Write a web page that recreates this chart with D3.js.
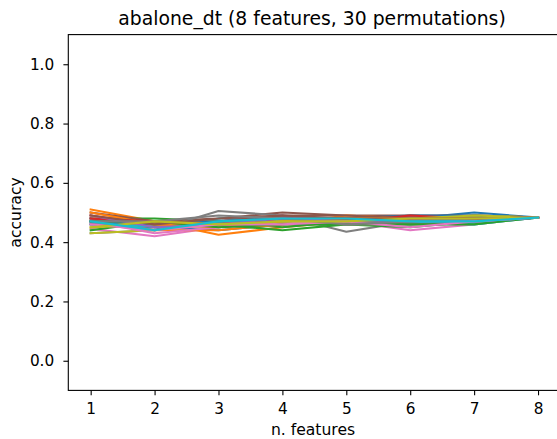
<!DOCTYPE html>
<html>
<head>
<meta charset="utf-8">
<script src="https://d3js.org/d3.v7.min.js"></script>
<title>abalone_dt</title>
<style>
body { margin: 0; background: #fff; }
svg { display: block; font-family: "DejaVu Sans", sans-serif; }
</style>
</head>
<body>
<svg id="svg" width="557" height="439"></svg>
<script>

// number of features on the x axis
const nFeatures = [1, 2, 3, 4, 5, 6, 7, 8];

// accuracy per permutation (30 runs)
const run01 = [0.470, 0.460, 0.450, 0.470, 0.480, 0.480, 0.500, 0.483];
const run02 = [0.510, 0.470, 0.425, 0.450, 0.470, 0.490, 0.480, 0.483];
const run03 = [0.480, 0.480, 0.470, 0.450, 0.470, 0.460, 0.470, 0.483];
const run04 = [0.490, 0.460, 0.470, 0.480, 0.480, 0.470, 0.490, 0.483];
const run05 = [0.460, 0.450, 0.460, 0.470, 0.480, 0.480, 0.480, 0.483];
const run06 = [0.500, 0.470, 0.480, 0.500, 0.490, 0.490, 0.490, 0.483];
const run07 = [0.445, 0.420, 0.450, 0.460, 0.470, 0.440, 0.460, 0.483];
const run08 = [0.430, 0.440, 0.505, 0.490, 0.435, 0.470, 0.470, 0.483];
const run09 = [0.430, 0.440, 0.460, 0.480, 0.470, 0.470, 0.490, 0.483];
const run10 = [0.480, 0.440, 0.480, 0.480, 0.470, 0.470, 0.460, 0.483];
const run11 = [0.460, 0.450, 0.440, 0.460, 0.480, 0.490, 0.490, 0.483];
const run12 = [0.490, 0.440, 0.440, 0.460, 0.490, 0.480, 0.470, 0.483];
const run13 = [0.440, 0.470, 0.460, 0.440, 0.460, 0.450, 0.470, 0.483];
const run14 = [0.470, 0.450, 0.460, 0.470, 0.470, 0.490, 0.480, 0.483];
const run15 = [0.480, 0.440, 0.470, 0.490, 0.470, 0.470, 0.480, 0.483];
const run16 = [0.480, 0.460, 0.470, 0.490, 0.490, 0.480, 0.480, 0.483];
const run17 = [0.470, 0.430, 0.450, 0.470, 0.460, 0.460, 0.470, 0.483];
const run18 = [0.460, 0.460, 0.470, 0.480, 0.470, 0.460, 0.470, 0.483];
const run19 = [0.450, 0.460, 0.470, 0.470, 0.480, 0.480, 0.490, 0.483];
const run20 = [0.470, 0.450, 0.460, 0.470, 0.480, 0.470, 0.470, 0.483];
const run21 = [0.470, 0.460, 0.470, 0.480, 0.470, 0.480, 0.480, 0.483];
const run22 = [0.500, 0.460, 0.450, 0.470, 0.480, 0.480, 0.480, 0.483];
const run23 = [0.470, 0.470, 0.450, 0.460, 0.460, 0.460, 0.460, 0.483];
const run24 = [0.480, 0.470, 0.460, 0.480, 0.480, 0.470, 0.480, 0.483];
const run25 = [0.490, 0.450, 0.460, 0.480, 0.470, 0.480, 0.470, 0.483];
const run26 = [0.490, 0.460, 0.480, 0.490, 0.480, 0.480, 0.480, 0.483];
const run27 = [0.460, 0.440, 0.460, 0.460, 0.470, 0.450, 0.470, 0.483];
const run28 = [0.470, 0.470, 0.490, 0.480, 0.460, 0.470, 0.480, 0.483];
const run29 = [0.450, 0.470, 0.460, 0.470, 0.470, 0.480, 0.480, 0.483];
const run30 = [0.470, 0.440, 0.470, 0.480, 0.480, 0.470, 0.470, 0.483];

const runs = [run01, run02, run03, run04, run05, run06, run07, run08, run09, run10,
              run11, run12, run13, run14, run15, run16, run17, run18, run19, run20,
              run21, run22, run23, run24, run25, run26, run27, run28, run29, run30];

const yTicks = [0.0, 0.2, 0.4, 0.6, 0.8, 1.0];

const palette = ["#1f77b4", "#ff7f0e", "#2ca02c", "#d62728", "#9467bd",
                 "#8c564b", "#e377c2", "#7f7f7f", "#bcbd22", "#17becf"];

// axes box (right edge runs past the picture, as in the reference)
let axLeft = 68.3, axRight = 560.4, axTop = 34.6, axBottom = 390.4;

let svg = d3.select("svg");

let x = d3.scaleLinear().domain([0.65, 8.35]).range([axLeft, axRight]);
let y = d3.scaleLinear().domain([-0.1, 1.1]).range([axBottom, axTop]);

let line = d3.line()
  .x(function(d, i){ return x(nFeatures[i]); })
  .y(function(d){ return y(d); });

svg.append("g").selectAll("path")
  .data(runs)
  .enter().append("path")
    .attr("d", line)
    .attr("fill", "none")
    .attr("stroke", function(d, i){ return palette[i % 10]; })
    .attr("stroke-width", 2.08)
    .attr("stroke-linejoin", "round")
    .attr("stroke-linecap", "square");

// spines
svg.append("rect")
  .attr("x", axLeft).attr("y", axTop)
  .attr("width", axRight - axLeft).attr("height", axBottom - axTop)
  .attr("fill", "none").attr("stroke", "#000").attr("stroke-width", 1.1);

// x axis
let xAxis = d3.axisBottom(x).tickValues(nFeatures).tickSize(4.9).tickPadding(4.9)
  .tickFormat(d3.format("d"));
let gx = svg.append("g").attr("transform", "translate(0," + axBottom + ")").call(xAxis);
gx.select(".domain").remove();
gx.selectAll("line").attr("stroke", "#000").attr("stroke-width", 1.1);
gx.selectAll("text").attr("font-size", "15.3px").attr("fill", "#000")
  .attr("y", 23.8).attr("dy", null).attr("font-family", "DejaVu Sans");

// y axis
let yAxis = d3.axisLeft(y).tickValues(yTicks).tickSize(4.9).tickPadding(9.2)
  .tickFormat(d3.format(".1f"));
let gy = svg.append("g").attr("transform", "translate(" + axLeft + ",0)").call(yAxis);
gy.select(".domain").remove();
gy.selectAll("line").attr("stroke", "#000").attr("stroke-width", 1.1);
gy.selectAll("text").attr("font-size", "15.3px").attr("fill", "#000")
  .attr("font-family", "DejaVu Sans");

// labels
svg.append("text")
  .attr("x", 313).attr("y", 434.5)
  .attr("text-anchor", "middle").attr("font-size", "15.6px")
  .text("n. features");

svg.append("text")
  .attr("transform", "translate(20.5," + ((axTop + axBottom) / 2) + ") rotate(-90)")
  .attr("text-anchor", "middle").attr("font-size", "15.6px")
  .text("accuracy");

svg.append("text")
  .attr("x", 312).attr("y", 25)
  .attr("text-anchor", "middle").attr("font-size", "18.8px")
  .text("abalone_dt (8 features, 30 permutations)");

</script>
</body>
</html>
